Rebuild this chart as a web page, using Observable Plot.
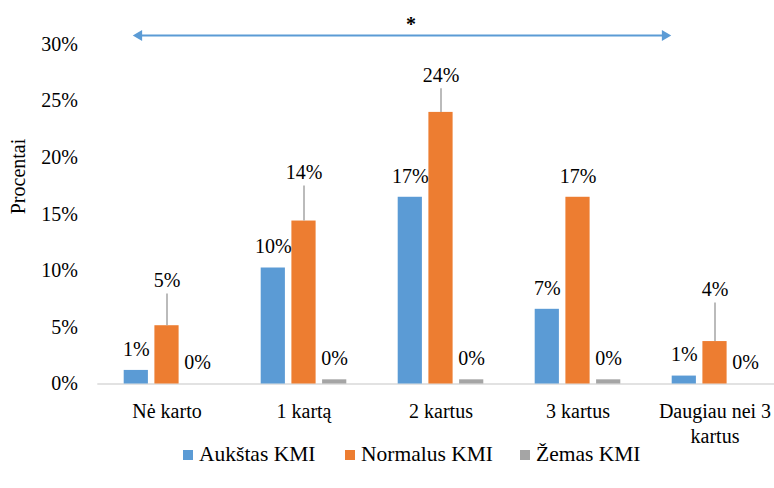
<!DOCTYPE html>
<html><head><meta charset="utf-8">
<script src="https://cdn.jsdelivr.net/npm/d3@7"></script>
<script src="https://cdn.jsdelivr.net/npm/@observablehq/plot@0.6"></script>
<style>
body{margin:0;background:#fff;font-family:"Liberation Serif",serif;}
#chart{position:relative;width:774px;height:488px;overflow:hidden;background:#fff}
#chart svg, #chart svg text{font-family:"Liberation Serif",serif !important;}
#legend{position:absolute;left:0;top:443px;width:774px;height:22px;font-family:"Liberation Serif",serif;font-size:21.5px;line-height:22px;color:#000;white-space:pre}
.item{position:absolute;top:0;display:flex;align-items:center;height:22px}
.sw{width:10px;height:10px;margin-right:6px;margin-top:2px}
</style></head><body><div id="chart"></div>
<script>
// ---- data ----
const categories = ["Nė karto", "1 kartą", "2 kartus", "3 kartus", "Daugiau nei 3 kartus"];
const xTickLabels = ["Nė karto", "1 kartą", "2 kartus", "3 kartus", "Daugiau nei 3\nkartus"];
const series = ["Aukštas KMI", "Normalus KMI", "Žemas KMI"];
const aukstas = [1.2, 10.25, 16.5, 6.6, 0.7];
const normalus = [5.15, 14.4, 24.0, 16.5, 3.75];
const zemas = [0, 0.37, 0.37, 0.37, 0];
const normalusErr = [2.8, 3.1, 2.1, 0, 3.4];
const yTicks = [0, 5, 10, 15, 20, 25, 30];
const significance = [{from: "Nė karto", to: "Daugiau nei 3 kartus", mid: "2 kartus", label: "*"}];

// ---- styles ----
const colors = ["#5B9BD5", "#ED7D31", "#A5A5A5"];
const offsets = [-30.7, 0, 30.7];
const legendLeft = [183, 345, 520];
const FONT = 20;
const FAMILY = "Liberation Serif";

const seriesValues = [aukstas, normalus, zemas];
const errs = [null, normalusErr, null];
const rows = series.flatMap((s, si) => categories.map((c, ci) => ({
  category: c, series: s, si, value: seriesValues[si][ci], err: errs[si] ? errs[si][ci] : 0
})));

const marks = [Plot.ruleY([0], {stroke: "#D9D9D9", strokeWidth: 1.3})];
series.forEach((s, si) => {
  const d = rows.filter(r => r.si === si);
  marks.push(Plot.barY(d, {x: "category", y: "value", fill: "series", dx: offsets[si], insetLeft: 56.4, insetRight: 56.4}));
});
marks.push(Plot.ruleX(rows.filter(r => r.err > 0), {x: "category", y1: "value", y2: r => r.value + r.err, stroke: "#A5A5A5", strokeWidth: 1.5, dx: offsets[1]}));
series.forEach((s, si) => {
  const d = rows.filter(r => r.si === si);
  marks.push(Plot.text(d.filter(r => r.err === 0), {x: "category", y: "value", text: r => Math.round(r.value) + "%", dx: offsets[si], dy: -21, fontSize: FONT, fontFamily: FAMILY, lineAnchor: "middle"}));
  marks.push(Plot.text(d.filter(r => r.err > 0), {x: "category", y: r => r.value + r.err, text: r => Math.round(r.value) + "%", dx: offsets[si], dy: -13, fontSize: FONT, fontFamily: FAMILY, lineAnchor: "middle"}));
});
// significance arrow
marks.push(Plot.arrow(significance, {x1: "from", x2: "to", y1: 30, y2: 30, dx: -27, dy: -9, insetEnd: 24, headLength: 0, stroke: "#5B9BD5", strokeWidth: 2.2}));
marks.push(Plot.dot(significance, {x: "from", y: 30, dx: -28, dy: -9, symbol: "triangle", r: 4, rotate: -90, fill: "#5B9BD5", stroke: "none"}));
marks.push(Plot.dot(significance, {x: "to", y: 30, dx: -50, dy: -9, symbol: "triangle", r: 4, rotate: 90, fill: "#5B9BD5", stroke: "none"}));
marks.push(Plot.text(significance, {x: "mid", y: 30, text: "label", dx: -30, dy: -20, fontSize: FONT, fontFamily: FAMILY, fontWeight: "bold", lineAnchor: "middle"}));
// axes
marks.push(Plot.axisY({ticks: yTicks, tickSize: 0, tickPadding: 20, tickFormat: d => d + "%", fontSize: FONT, fontFamily: FAMILY, label: null}));
marks.push(Plot.axisX({tickSize: 0, tickPadding: 16, fontSize: FONT, fontFamily: FAMILY, lineHeight: 1.25, tickFormat: d => xTickLabels[categories.indexOf(d)], label: null}));
marks.push(Plot.text(["Procentai"], {frameAnchor: "left", dx: -79, rotate: -90, fontSize: FONT, fontFamily: FAMILY}));

const plot = Plot.plot({
  width: 774,
  height: 488,
  marginTop: 44,
  marginBottom: 104.5,
  marginLeft: 97.3,
  marginRight: 0,
  style: {fontFamily: FAMILY, fontSize: FONT + "px", color: "#000", background: "#fff"},
  x: {domain: categories, range: [97.3, 783.8], padding: 0, axis: null},
  y: {domain: [0, 30], axis: null},
  color: {domain: series, range: colors},
  marks
});
const chart = document.getElementById("chart");
chart.appendChild(plot);
const legend = document.createElement("div");
legend.id = "legend";
series.forEach((s, i) => {
  const it = document.createElement("div"); it.className = "item"; it.style.left = legendLeft[i] + "px";
  const sw = document.createElement("div"); sw.className = "sw"; sw.style.background = colors[i];
  const t = document.createElement("span"); t.textContent = s;
  it.appendChild(sw); it.appendChild(t); legend.appendChild(it);
});
chart.appendChild(legend);
</script></body></html>
